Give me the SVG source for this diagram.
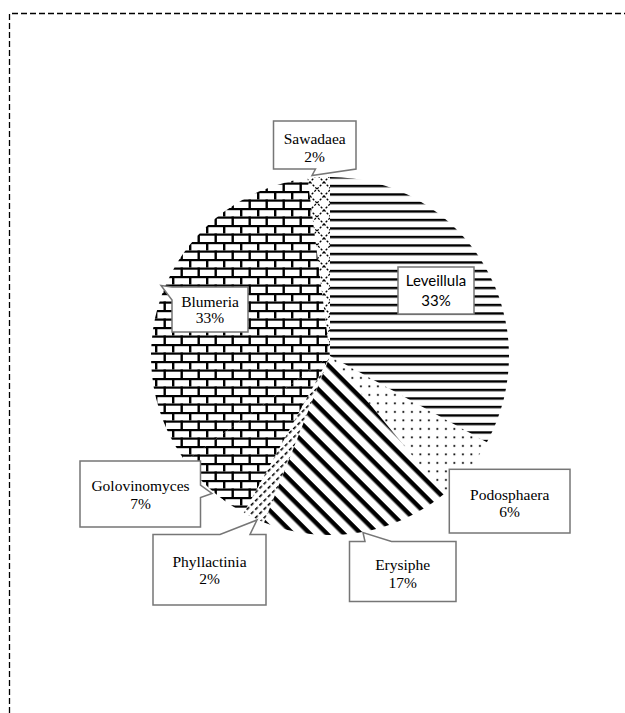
<svg xmlns="http://www.w3.org/2000/svg" width="625" height="713" viewBox="0 0 625 713">
<style>
.call{fill:#fff;stroke:#767676;stroke-width:1.5}
.t{font-family:"Liberation Serif","Times New Roman",serif;font-size:15.5px;fill:#000;text-anchor:middle}
.s{font-family:Lato,"Liberation Sans",sans-serif;font-size:15px;fill:#000;text-anchor:middle}
</style>
<defs>
<pattern id="hlines" patternUnits="userSpaceOnUse" width="17" height="8.5" y="354.8">
<rect width="17" height="2.4" fill="#000"/>
</pattern>
<pattern id="brick" patternUnits="userSpaceOnUse" width="17" height="17" x="2" y="4">
<rect x="0" y="0" width="17" height="2.2" fill="#000"/>
<rect x="0" y="8.5" width="17" height="2.2" fill="#000"/>
<rect x="0" y="0" width="2.4" height="8.5" fill="#000"/>
<rect x="8.5" y="8.5" width="2.4" height="8.5" fill="#000"/>
</pattern>
<pattern id="diag" patternUnits="userSpaceOnUse" width="12" height="12" patternTransform="rotate(45)">
<rect width="12" height="4.5" fill="#000"/>
</pattern>
<pattern id="dash" patternUnits="userSpaceOnUse" width="6" height="6" patternTransform="rotate(-45)">
<rect width="3.5" height="1.6" fill="#000"/>
</pattern>
<pattern id="lattice" patternUnits="userSpaceOnUse" width="14" height="14" x="2" y="0">
<path d="M0,0 L14,14 M14,0 L0,14" stroke="#000" stroke-width="1.3" stroke-dasharray="2.2 1.6" fill="none"/>
</pattern>
<pattern id="dots" patternUnits="userSpaceOnUse" width="8.5" height="8.5">
<rect x="3" y="3" width="1.8" height="1.8" fill="#000"/>
</pattern>
</defs>
<rect width="625" height="713" fill="#fff"/>
<path d="M9.5,713 V13.5 H625" fill="none" stroke="#000" stroke-width="1.3" stroke-dasharray="6 3"/>
<g id="slices">
<path id="slice-leveillula" d="M330,356 L330,177 A179,179 0 0 1 486.86,442.24 Z" fill="url(#hlines)"/>
<path id="slice-podosphaera" d="M330,356 L486.86,442.24 A179,179 0 0 1 444.09,493.92 Z" fill="url(#dots)"/>
<path id="slice-erysiphe" d="M330,356 L444.09,493.92 A179,179 0 0 1 264.11,522.43 Z" fill="url(#diag)"/>
<path id="slice-phyllactinia" d="M330,356 L264.11,522.43 A179,179 0 0 1 243.76,512.86 Z" fill="url(#dash)"/>
<path id="slice-golovinomyces" d="M330,356 L243.76,512.86 A179,179 0 0 1 185.19,461.21 Z" fill="url(#brick)"/>
<path id="slice-blumeria" d="M330,356 L185.19,461.21 A179,179 0 0 1 307.57,178.41 Z" fill="url(#brick)"/>
<path id="slice-sawadaea" d="M330,356 L307.57,178.41 A179,179 0 0 1 330,177 Z" fill="url(#lattice)"/>
</g>
<g id="connectors"></g>
<g id="label-sawadaea">
<path class="call" d="M273.5,121 H356 V169 L312,175.5 L315.5,169 H273.5 Z"/>
<text class="t" x="314.7" y="144">Sawadaea</text>
<text class="t" x="314.7" y="161.5">2%</text>
</g>
<g id="label-leveillula">
<rect class="call" x="398" y="267" width="76" height="47"/>
<text class="s" x="436" y="286">Leveillula</text>
<text class="s" x="436" y="305.5">33%</text>
</g>
<g id="label-blumeria">
<path class="call" d="M172,287 H248 V332 H172 V300 L161,285.5 Z"/>
<text class="t" x="210" y="306.7">Blumeria</text>
<text class="t" x="210" y="323.3">33%</text>
</g>
<g id="label-golovinomyces">
<path class="call" d="M80,461 H200.5 V485 L212,493.5 L200.5,497.5 V527 H80 Z"/>
<text class="t" x="140.5" y="491">Golovinomyces</text>
<text class="t" x="140.5" y="508.5">7%</text>
</g>
<g id="label-phyllactinia">
<path class="call" d="M153,534.5 H220 L257,520 L250,534.5 H266 V605 H153 Z"/>
<text class="t" x="209.5" y="567.3">Phyllactinia</text>
<text class="t" x="209.5" y="584">2%</text>
</g>
<g id="label-erysiphe">
<path class="call" d="M349.5,541.5 H365 L363,532.5 L391.5,541.5 H456 V601.5 H349.5 Z"/>
<text class="t" x="402.7" y="570">Erysiphe</text>
<text class="t" x="402.7" y="588.3">17%</text>
</g>
<g id="label-podosphaera">
<rect class="call" x="449.3" y="469.3" width="120.7" height="63.7"/>
<text class="t" x="509.7" y="500">Podosphaera</text>
<text class="t" x="509.7" y="516.7">6%</text>
</g>
</svg>
